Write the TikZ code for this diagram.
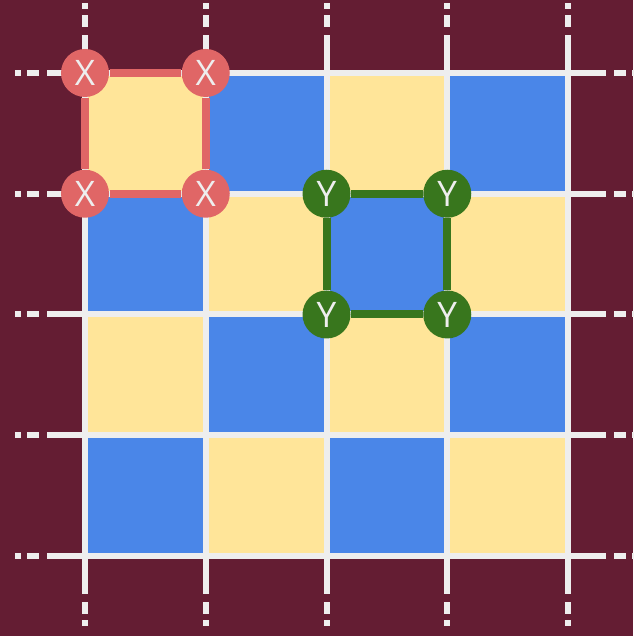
\documentclass[tikz,border=0pt]{standalone}
\usepackage{fontspec}
\setmainfont{Open Sans}
\definecolor{bgmaroon}{HTML}{641D33}
\definecolor{cellblue}{HTML}{4A86E8}
\definecolor{cellyellow}{HTML}{FFE599}
\definecolor{xred}{HTML}{E06666}
\definecolor{ygreen}{HTML}{38761D}
\definecolor{gridwhite}{HTML}{EEEEEE}

\begin{document}
\begin{tikzpicture}[
  x=1.2075cm, y=1.2075cm,
  gridln/.style={draw=gridwhite, line width=0.06cm},
  tail/.style={gridln, dash pattern=on 0.38cm off 0.08cm on 0.12cm off 0.06cm on 0.06cm off 2cm},
  xnode/.style={circle, fill=xred, minimum size=0.48cm, inner sep=0pt, text=gridwhite,
    font=\fontsize{10}{12}\selectfont},
  ynode/.style={xnode, fill=ygreen},
  xline/.style={draw=xred, line width=0.08cm},
  yline/.style={draw=ygreen, line width=0.08cm}
]
  \useasboundingbox[fill=bgmaroon] (-0.704,-0.6625) rectangle (4.538,4.6046);

  % checkerboard
  \foreach \c in {0,...,3}
    \foreach \r in {0,...,3} {
      \ifodd\numexpr\c+\r\relax
        \fill[cellyellow] (\c,\r) rectangle ++(1,1);
      \else
        \fill[cellblue] (\c,\r) rectangle ++(1,1);
      \fi
    }

  % grid and its dashed tails
  \foreach \i in {0,...,4} {
    \draw[gridln] (\i,0) -- (\i,4);
    \draw[gridln] (0,\i) -- (4,\i);
    \draw[tail] (\i,4) -- ++(0,0.6);
    \draw[tail] (\i,0) -- ++(0,-0.6);
    \draw[tail] (0,\i) -- ++(-0.6,0);
    \draw[tail] (4,\i) -- ++(0.6,0);
  }

  \node[xnode] (x1) at (0,4) {X};
  \node[xnode] (x2) at (1,4) {X};
  \node[xnode] (x3) at (0,3) {X};
  \node[xnode] (x4) at (1,3) {X};
  \draw[xline] (x1) -- (x2) -- (x4) -- (x3) -- (x1);

  \node[ynode] (y1) at (2,3) {Y};
  \node[ynode] (y2) at (3,3) {Y};
  \node[ynode] (y3) at (2,2) {Y};
  \node[ynode] (y4) at (3,2) {Y};
  \draw[yline] (y1) -- (y2) -- (y4) -- (y3) -- (y1);
\end{tikzpicture}
\end{document}
